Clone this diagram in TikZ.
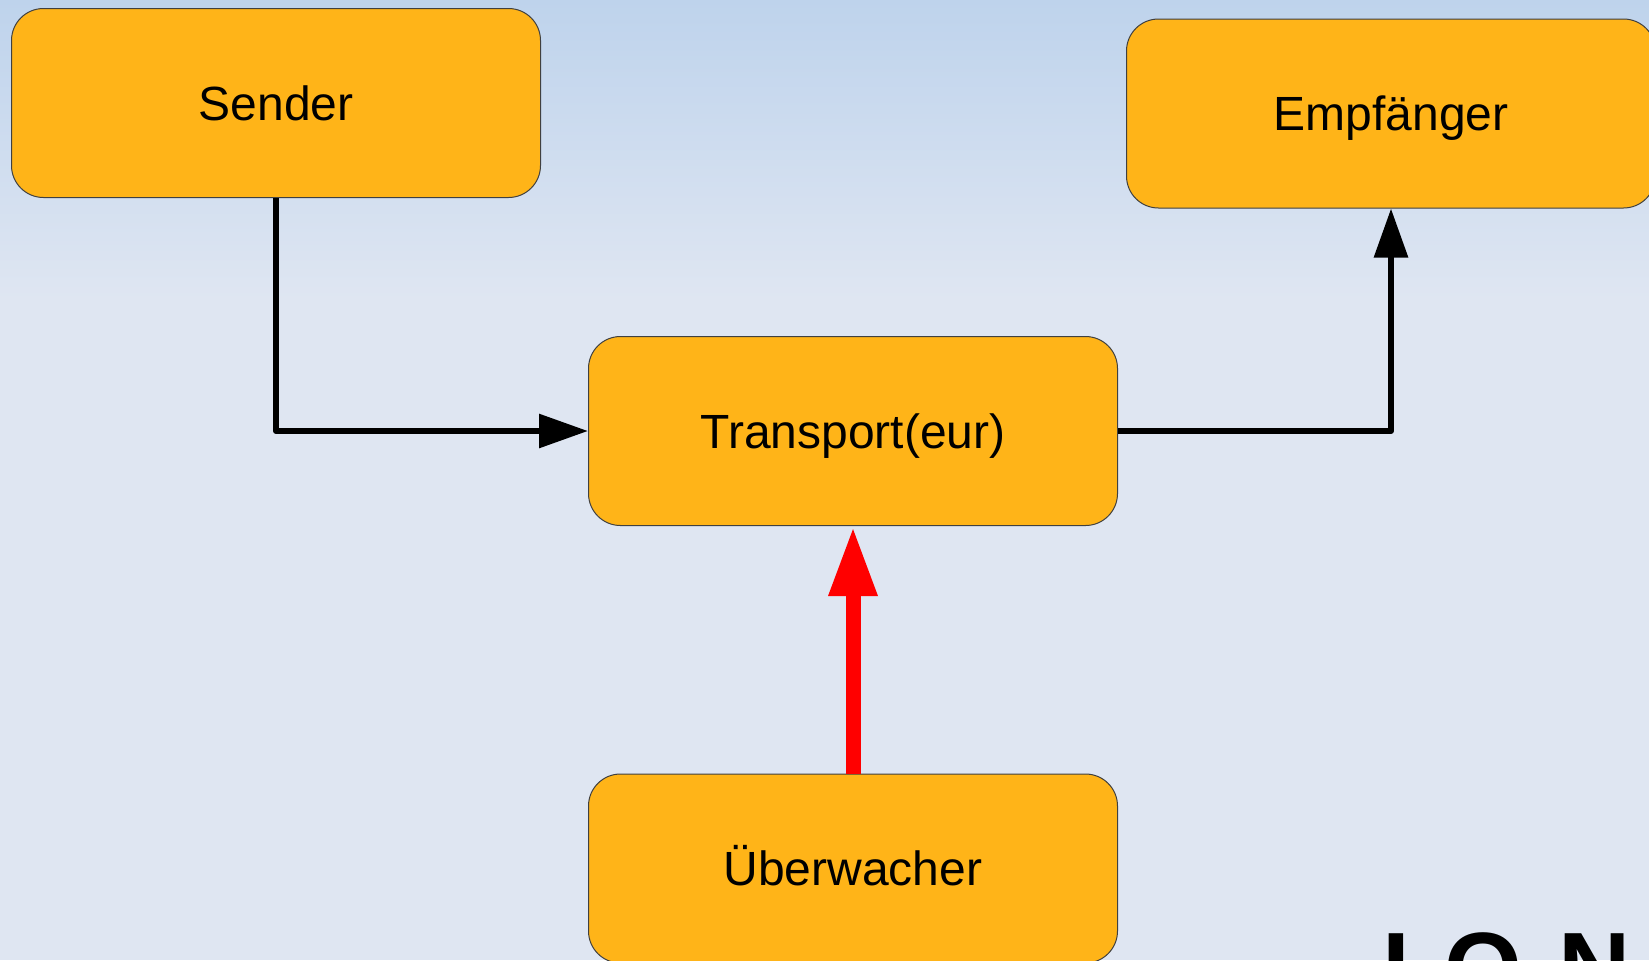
\documentclass[tikz,border=0pt]{standalone}
\usepackage{fontspec}
\setmainfont{Liberation Sans}
\usetikzlibrary{arrows.meta}
\definecolor{boxorange}{RGB}{255,180,24}
\definecolor{skytop}{RGB}{190,211,236}
\definecolor{skybottom}{RGB}{223,230,242}
\definecolor{signalred}{RGB}{255,0,0}
\begin{document}
\begin{tikzpicture}[x=0.5pt, y=-0.5pt,
    box/.style={rectangle, rounded corners=16pt, draw=black!75, fill=boxorange,
      line width=0.5pt, minimum width=264.5pt, minimum height=94.5pt,
      text height=17.2pt, text depth=0pt, font=\fontsize{24}{28}\selectfont}]
    \useasboundingbox (0,0) rectangle (1649,960);
    \clip (0,0) rectangle (1649,960);
    \fill[top color=skytop, bottom color=skybottom] (0,0) rectangle (1649,300);
    \fill[skybottom] (0,300) rectangle (1649,960);

    \begin{scope}[every node/.style={box}]
      \node (sender) at (276,103) {Sender};
      \node (empf) at (1391,113.5) {Empfänger};
      \node (transport) at (853,431) {Transport(eur)};
      \node (ueber) at (853,868.5) {Überwacher};
    \end{scope}

    \begin{scope}[line width=3pt, line join=round,
        -{Triangle[length=24.5pt, width=16.5pt]}]
      \draw (sender.south) |- (transport.west);
      \draw (transport.east) -| (empf.south);
    \end{scope}
    \draw[signalred, line width=7.5pt, -{Triangle[length=35pt, width=22.5pt]}]
      (ueber.north) -- (transport.south);

    \node[anchor=base west, inner sep=0pt, font=\fontsize{50}{60}\selectfont\bfseries]
      (logo) at (1382,1002) {I\hspace{17pt}O\hspace{18pt}N};
\end{tikzpicture}
\end{document}
